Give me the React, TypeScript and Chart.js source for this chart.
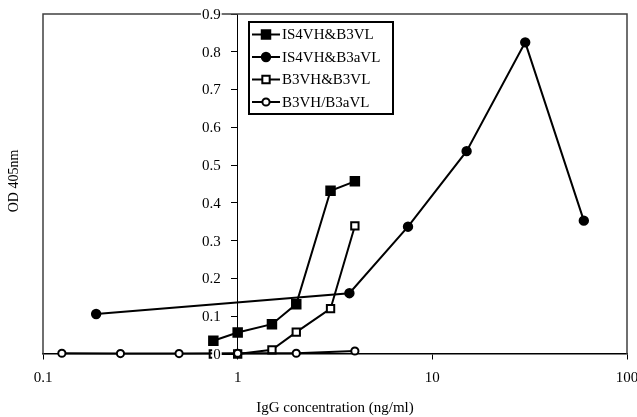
import React, { useEffect, useRef } from "react";
import { Chart, registerables } from "chart.js";

Chart.register(...registerables);

const seriesNames = ["IS4VH&B3VL", "IS4VH&B3aVL", "B3VH&B3VL", "B3VH/B3aVL"];
const xIS4VH_B3VL = [0.75, 1, 1.5, 2, 3, 4];
const yIS4VH_B3VL = [0.035, 0.057, 0.079, 0.132, 0.432, 0.457];
const xIS4VH_B3aVL = [0.1875, 3.75, 7.5, 15, 30, 60];
const yIS4VH_B3aVL = [0.106, 0.161, 0.337, 0.537, 0.825, 0.353];
const xB3VH_B3VL = [0.75, 1, 1.5, 2, 3, 4];
const yB3VH_B3VL = [0.0, 0.0, 0.011, 0.058, 0.12, 0.339];
const xB3VH_B3aVL = [0.125, 0.25, 0.5, 1, 2, 4];
const yB3VH_B3aVL = [0.002, 0.001, 0.001, 0.002, 0.002, 0.008];
const xTicks = [0.1, 1, 10, 100];
const xTickLabels = ["0.1", "1", "10", "100"];
const yTicks = [0, 0.1, 0.2, 0.3, 0.4, 0.5, 0.6, 0.7, 0.8, 0.9];
const yTickLabels = ["0", "0.1", "0.2", "0.3", "0.4", "0.5", "0.6", "0.7", "0.8", "0.9"];
const xTitle = "IgG concentration (ng/ml)";
const yTitle = "OD 405nm";

const FONT = "'Liberation Serif', 'Times New Roman', serif";

const toPts = (xs: number[], ys: number[]) => xs.map((x, i) => ({ x, y: ys[i] }));

const markerStyles = [
  { pointStyle: "rect", pointRadius: 6, fill: "#000" },
  { pointStyle: "circle", pointRadius: 4.2, fill: "#000" },
  { pointStyle: "rect", pointRadius: 5.2, fill: "#fff" },
  { pointStyle: "circle", pointRadius: 3.6, fill: "#fff" },
];

const frameAndLabels = {
  id: "frameAndLabels",
  beforeDatasetsDraw(chart: any) {
    const { ctx, chartArea: a } = chart;
    ctx.save();
    ctx.strokeStyle = "#404040";
    ctx.lineWidth = 1.5;
    ctx.beginPath();
    ctx.moveTo(a.left, a.bottom);
    ctx.lineTo(a.left, a.top);
    ctx.lineTo(a.right, a.top);
    ctx.lineTo(a.right, a.bottom);
    ctx.stroke();
    ctx.restore();
  },
  afterDatasetsDraw(chart: any) {
    const { ctx, chartArea: a, scales } = chart;
    const xs = scales.x;
    const ys = scales.y;
    const axisX = xs.getPixelForValue(1);
    ctx.save();
    ctx.font = `15px ${FONT}`;
    ctx.textAlign = "right";
    ctx.textBaseline = "middle";
    yTicks.forEach((v, i) => {
      const py = ys.getPixelForValue(v);
      const label = yTickLabels[i];
      const w = ctx.measureText(label).width;
      const right = axisX - 17;
      ctx.fillStyle = "#fff";
      ctx.fillRect(right - w - 1, py - 7, w + 2, 14);
      ctx.fillStyle = "#000";
      ctx.fillText(label, right, py + 1);
    });
    ctx.textAlign = "center";
    xTicks.forEach((v, i) => {
      ctx.fillText(xTickLabels[i], xs.getPixelForValue(v), a.bottom + 24);
    });
    // titles
    ctx.fillText(xTitle, (a.left + a.right) / 2, 408);
    ctx.save();
    ctx.translate(14, 181);
    ctx.rotate(-Math.PI / 2);
    ctx.font = `14px ${FONT}`;
    ctx.fillText(yTitle, 0, 0);
    ctx.restore();

    // legend
    const lx = 249, ly = 22, lw = 144, lh = 92;
    ctx.fillStyle = "#fff";
    ctx.fillRect(lx, ly, lw, lh);
    ctx.strokeStyle = "#000";
    ctx.lineWidth = 2;
    ctx.strokeRect(lx, ly, lw, lh);
    ctx.font = `15px ${FONT}`;
    ctx.textAlign = "left";
    ctx.textBaseline = "middle";
    chart.data.datasets.forEach((ds: any, i: number) => {
      const cy = ly + 12.5 + i * 22.5;
      ctx.strokeStyle = "#000";
      ctx.lineWidth = 2;
      ctx.beginPath();
      ctx.moveTo(lx + 3, cy);
      ctx.lineTo(lx + 31, cy);
      ctx.stroke();
      const m = markerStyles[i];
      ctx.fillStyle = m.fill;
      ctx.beginPath();
      if (m.pointStyle === "rect") {
        const s = m.pointRadius * Math.SQRT1_2;
        ctx.rect(lx + 17 - s, cy - s, 2 * s, 2 * s);
      } else {
        ctx.arc(lx + 17, cy, m.pointRadius, 0, Math.PI * 2);
      }
      ctx.fill();
      ctx.stroke();
      ctx.fillStyle = "#000";
      ctx.fillText(ds.label, lx + 33, cy + 1);
    });
    ctx.restore();
  },
};

export default function App() {
  const ref = useRef<HTMLCanvasElement>(null);
  useEffect(() => {
    if (!ref.current) return;
    const seriesPts = [
      toPts(xIS4VH_B3VL, yIS4VH_B3VL),
      toPts(xIS4VH_B3aVL, yIS4VH_B3aVL),
      toPts(xB3VH_B3VL, yB3VH_B3VL),
      toPts(xB3VH_B3aVL, yB3VH_B3aVL),
    ];
    const chart = new Chart(ref.current, {
      type: "line",
      data: {
        datasets: seriesPts.map((pts, i) => ({
          label: seriesNames[i],
          data: pts,
          borderColor: "#000",
          borderWidth: 2,
          pointStyle: markerStyles[i].pointStyle as any,
          pointRadius: markerStyles[i].pointRadius,
          pointBackgroundColor: markerStyles[i].fill,
          pointBorderColor: "#000",
          pointBorderWidth: 2,
          fill: false,
          tension: 0,
          clip: false as any,
          order: 3 - i,
        })),
      },
      options: {
        animation: false,
        responsive: false,
        maintainAspectRatio: false,
        events: [],
        layout: { padding: { left: 43, top: 14, right: 10, bottom: 63 } },
        plugins: { legend: { display: false }, tooltip: { enabled: false } },
        scales: {
          x: {
            type: "logarithmic",
            position: { y: 0 } as any,
            min: 0.1,
            max: 100,
            afterBuildTicks: (s: any) => {
              s.ticks = xTicks.map((v) => ({ value: v }));
            },
            grid: { drawOnChartArea: false, drawTicks: true, tickLength: 5, color: "#000", tickColor: "#000" },
            border: { display: true, color: "#000", width: 1.5 },
            ticks: { display: false, padding: 0 },
          },
          y: {
            type: "linear",
            position: { x: 1 } as any,
            min: 0,
            max: 0.9,
            afterBuildTicks: (s: any) => {
              s.ticks = yTicks.map((v) => ({ value: v }));
            },
            grid: { drawOnChartArea: false, drawTicks: true, tickLength: 6, color: "#000", tickColor: "#000" },
            border: { display: true, color: "#000", width: 1 },
            ticks: { display: false, padding: 0 },
          },
        },
      },
      plugins: [frameAndLabels],
    });
    return () => chart.destroy();
  }, []);
  return (
    <div style={{ position: "absolute", left: 0, top: 0, width: 637, height: 417, background: "#fff" }}>
      <canvas ref={ref} width={637} height={417} style={{ width: 637, height: 417 }} />
    </div>
  );
}
